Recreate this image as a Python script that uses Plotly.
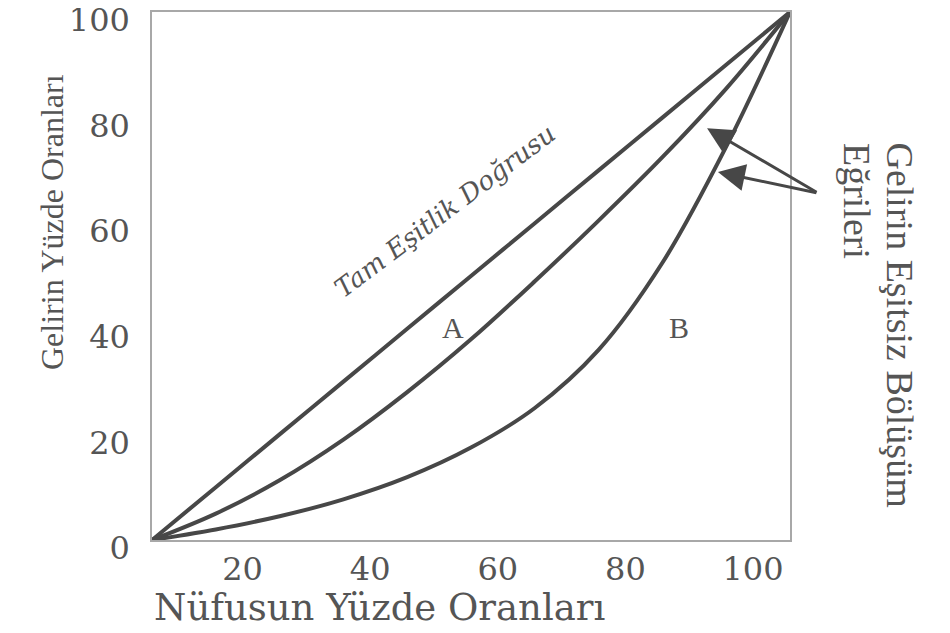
import plotly.graph_objects as go

# Population share (x) and income share (y), percent
pop_share = [0, 10, 20, 30, 40, 50, 60, 70, 80, 90, 100]
equality = [0, 10, 20, 30, 40, 50, 60, 70, 80, 90, 100]
curve_a = [0, 5, 11.3, 19, 28, 38, 49, 60.5, 72.5, 85.5, 100]
curve_b = [0, 2, 4.5, 7.7, 11.9, 17.5, 25, 36, 52.5, 74.5, 100]

x_ticks = [20, 40, 60, 80, 100]
y_ticks = [0, 20, 40, 60, 80, 100]

line_color = "#474747"
text_color = "#555555"
axis_color = "#a8a8a8"

fig = go.Figure()
for ys in (equality, curve_a, curve_b):
    fig.add_trace(go.Scatter(
        x=pop_share, y=ys, mode="lines", line_shape="spline",
        line=dict(color=line_color, width=4, smoothing=1.0), showlegend=False,
        hoverinfo="skip", cliponaxis=False,
    ))

# plot area in page pixels: left 152, right 790, top 12, bottom 540
PL, PR, PT, PB = 152, 790, 12, 540


def px(xp):
    return (xp - PL) / (PR - PL)


def py(yp):
    return (PB - yp) / (PB - PT)


annotations = [
    dict(text="Tam Eşitlik Doğrusu", x=45.9, y=62.3, xref="x", yref="y",
         showarrow=False, textangle=-37,
         font=dict(family="DejaVu Serif", size=26, color=text_color, style="italic")),
    dict(text="A", x=47.2, y=40.3, xref="x", yref="y", showarrow=False,
         font=dict(family="Liberation Serif", size=30, color=text_color)),
    dict(text="B", x=82.6, y=40.2, xref="x", yref="y", showarrow=False,
         font=dict(family="Liberation Serif", size=30, color=text_color)),
    dict(text="Gelirin Eşitsiz Bölüşüm", x=px(900), y=py(141),
         xref="paper", yref="paper", showarrow=False, textangle=90,
         xanchor="center", yanchor="top",
         font=dict(family="Liberation Serif", size=38, color=text_color)),
    dict(text="Eğrileri", x=px(857), y=py(141),
         xref="paper", yref="paper", showarrow=False, textangle=90,
         xanchor="center", yanchor="top",
         font=dict(family="Liberation Serif", size=38, color=text_color)),
    dict(text="Gelirin Yüzde Oranları", x=px(32), y=py(222),
         xref="paper", yref="paper", showarrow=False, textangle=-90,
         font=dict(family="Liberation Serif", size=32, color=text_color)),
    dict(text="Nüfusun Yüzde Oranları", x=px(379), y=py(607),
         xref="paper", yref="paper", showarrow=False, yanchor="middle",
         font=dict(family="DejaVu Serif", size=37, color=text_color)),
    # arrows pointing to the curves
    dict(text="", x=87.0, y=78.0, xref="x", yref="y", showarrow=True,
         ax=111, ay=65, axref="pixel", ayref="pixel",
         arrowhead=2, arrowsize=1.8, arrowwidth=3, arrowcolor=line_color),
    dict(text="", x=88.7, y=69.7, xref="x", yref="y", showarrow=True,
         ax=100, ay=21, axref="pixel", ayref="pixel",
         arrowhead=2, arrowsize=1.8, arrowwidth=3, arrowcolor=line_color),
]

# the page body adds an 8px offset, so the figure is drawn 8px smaller
W, H = 942, 625
OFF = 8
fig.update_layout(
    width=W, height=H,
    margin=dict(l=PL - OFF, r=W - (PR - OFF), t=PT - OFF, b=H - (PB - OFF)),
    paper_bgcolor="white", plot_bgcolor="white",
    annotations=annotations,
    xaxis=dict(range=[0, 100], tickvals=x_ticks, showgrid=False, zeroline=False,
               showline=True, linecolor=axis_color, linewidth=1.5, mirror=True,
               automargin=False, ticks="", ticklabelstandoff=0, ticklabelshift=-37,
               ticklabeloverflow="allow",
               tickfont=dict(family="DejaVu Serif", size=32, color=text_color)),
    yaxis=dict(range=[0, 100], tickvals=y_ticks, showgrid=False, zeroline=False,
               showline=True, linecolor=axis_color, linewidth=1.5, mirror=True,
               automargin=False, ticks="", ticklabelstandoff=14, ticklabelshift=8,
               ticklabeloverflow="allow",
               tickfont=dict(family="DejaVu Serif", size=32, color=text_color)),
)

fig.write_html("out.html")
